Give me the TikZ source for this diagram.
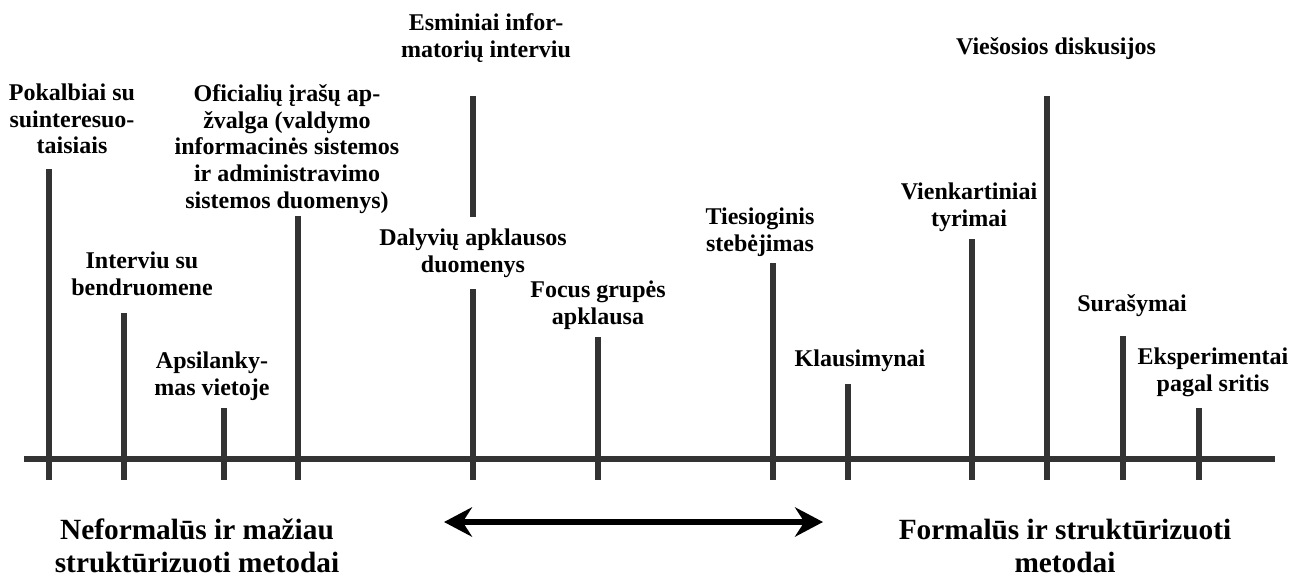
\documentclass[tikz,border=0pt]{standalone}
\usepackage{fontspec}
\setmainfont{Liberation Serif}
\usetikzlibrary{arrows.meta}
\definecolor{bargray}{RGB}{51,51,51}
\tikzset{
	bar/.style={bargray, line width=4.5pt},
	lbl/.style={font=\bfseries\fontsize{18}{20}\selectfont, align=center, inner sep=0pt},
	biglbl/.style={font=\bfseries\fontsize{22}{24.75}\selectfont, align=center, inner sep=0pt}
}

\begin{document}
\begin{tikzpicture}[x=0.75pt,y=-0.75pt]
	\useasboundingbox (0,0) rectangle (1292,579);
	%lines
	\draw[bar] (24,459)--(1275,459);
	\foreach \x/\top in {49/169,124/313,224/408,298/216,473/96,598/337,773/263,848/384,972/239,1047/96,1123/336,1199/408}
		\draw[bar] (\x,\top)--(\x,480);
	
	%labels
	\node[lbl] (pokalbiai) at (72,119)    {Pokalbiai su\\suinteresuo-\\taisiais};
	\node[lbl] (interviu)  at (142,274)   {Interviu su\\bendruomene};
	\node[lbl] (apsilank)  at (212,376)   {Apsilanky-\\mas vietoje};
	\node[lbl] (oficial)   at (287,149)   {Oficialių įrašų ap-\\žvalga (valdymo\\informacinės sistemos\\ir administravimo\\sistemos duomenys)};
	\node[lbl] (esminiai)  at (486,38)    {Esminiai infor-\\matorių interviu};
	\node[lbl, fill=white, inner ysep=9pt] (dalyviu) at (473,253) {Dalyvių apklausos\\duomenys};	%manual fill
	\node[lbl] (focus)     at (598,305)   {Focus grupės\\apklausa};
	\node[lbl] (tiesiog)   at (760,232)   {Tiesioginis\\stebėjimas};
	\node[lbl] (vienkart)  at (969,207)   {Vienkartiniai\\tyrimai};
	\node[lbl] (viesosios) at (1056,49)   {Viešosios diskusijos};
	\node[lbl] (klausim)   at (860,361)   {Klausimynai};
	\node[lbl] (surasym)   at (1132,306)  {Surašymai};
	\node[lbl] (eksper)    at (1213,372)  {Eksperimentai\\pagal sritis};
	%
	\node[biglbl] (neform) at (197,546)  {Neformalūs ir mažiau\\struktūrizuoti metodai};
	\node[biglbl] (formal) at (1065,546) {Formalūs ir struktūrizuoti\\metodai};
	%
	\coordinate (arrL) at (444,522);
	\coordinate (arrR) at (823,522);
	\draw[line width=4.5pt, {Stealth[length=21pt,width=22pt,inset=7pt]}-{Stealth[length=21pt,width=22pt,inset=7pt]}] (arrL)--(arrR);
\end{tikzpicture}
\end{document}
